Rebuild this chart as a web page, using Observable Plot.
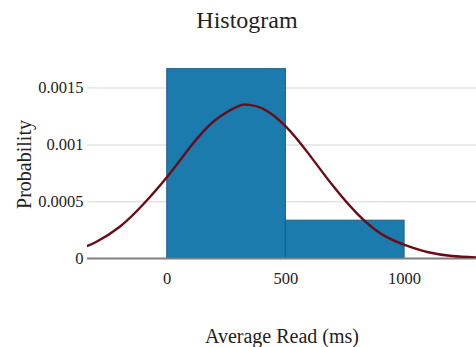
<!DOCTYPE html>
<html>
<head>
<meta charset="utf-8">
<script src="https://cdn.jsdelivr.net/npm/d3@7"></script>
<script src="https://cdn.jsdelivr.net/npm/@observablehq/plot@0.6"></script>
<style>
  html, body { margin: 0; padding: 0; background: #fff; }
  svg text { font-family: 'Liberation Serif', 'Times New Roman', serif; }
</style>
</head>
<body>
<div id="chart"></div>
<script>
// Histogram bins (ms) and probability densities
const binStart = [0, 500];
const binEnd = [500, 1000];
const binDensity = [0.001667, 0.000333];

// Fitted density curve
const curveX = [-340, -300, -200, -100, 0, 100, 200, 300, 337, 400, 500, 600, 700, 800, 900, 1000, 1100, 1200, 1300];
const curveY = [0.00011, 0.000145, 0.00028, 0.00048, 0.00072, 0.00099, 0.001215, 0.001342, 0.001353, 0.001322, 0.001161, 0.00091, 0.000635, 0.000395, 0.000219, 0.00012, 0.000055, 0.000022, 0.00001];

const yTicks = [0, 0.0005, 0.001, 0.0015];
const yTickLabels = ["0", "0.0005", "0.001", "0.0015"];
const xTicks = [0, 500, 1000];
const xTickLabels = ["0", "500", "1000"];

const titleText = "Histogram";
const xLabel = "Average Read (ms)";
const yLabel = "Probability";

const bins = binStart.map((s, i) => ({x1: s, x2: binEnd[i], y: binDensity[i]}));
const curve = curveX.map((x, i) => ({x, y: curveY[i]}));
const serif = "'Liberation Serif', 'Times New Roman', serif";

const chart = Plot.plot({
  width: 476,
  height: 347,
  marginLeft: 87,
  marginRight: 0,
  marginTop: 60,
  marginBottom: 89,
  style: {fontFamily: serif, fontSize: "16px", color: "#222", background: "#fff"},
  x: {domain: [-336, 1303]},
  y: {domain: [0, 0.001743]},
  marks: [
    Plot.gridY(yTicks, {stroke: "#e3e3e3", strokeOpacity: 1, strokeWidth: 1.5}),
    Plot.rectY(bins, {x1: "x1", x2: "x2", y: "y", fill: "#1b7bad", stroke: "#1f5d8a", strokeWidth: 1}),
    Plot.ruleY([0], {stroke: "#808080", strokeWidth: 2}),
    Plot.line(curve, {x: "x", y: "y", stroke: "#6a0d18", strokeWidth: 2.4, curve: "natural", clip: true}),
    Plot.axisY(yTicks, {tickSize: 0, tickPadding: 4, label: null, fontSize: 16.5, fontFamily: serif,
      tickFormat: (d) => yTickLabels[yTicks.indexOf(d)]}),
    Plot.axisX(xTicks, {tickSize: 0, tickPadding: 14, label: null, fontSize: 16.5, fontFamily: serif,
      tickFormat: (d) => xTickLabels[xTicks.indexOf(d)]}),
    Plot.text([titleText], {frameAnchor: "top", lineAnchor: "middle", dy: -40, dx: -35, fontSize: 24, fill: "#222", fontFamily: serif}),
    Plot.text([xLabel], {frameAnchor: "bottom", lineAnchor: "middle", dy: 78, fontSize: 20, fill: "#222", fontFamily: serif}),
    Plot.text([yLabel], {frameAnchor: "left", textAnchor: "middle", lineAnchor: "middle", dx: -63, dy: 5, rotate: -90, fontSize: 20, fill: "#222", fontFamily: serif})
  ]
});
document.getElementById("chart").appendChild(chart);
</script>
</body>
</html>
